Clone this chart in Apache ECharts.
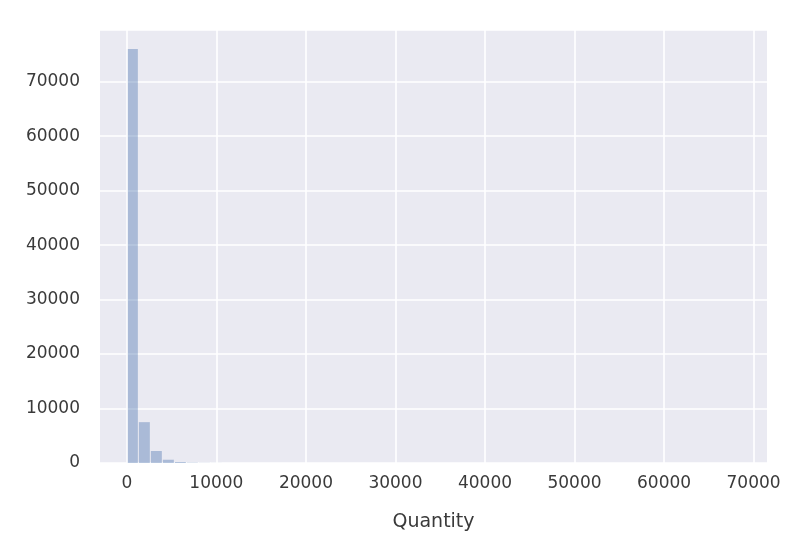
<!DOCTYPE html>
<html><head><meta charset="utf-8">
<script src="https://cdn.jsdelivr.net/npm/echarts@6/dist/echarts.min.js"></script>
<style>html,body{margin:0;background:#fff}#chart{width:803px;height:551px}</style>
</head><body><div id="chart"></div>
<script>
// histogram bins: [start, end, count]
var binStart = [0, 1340, 2680, 4020, 5360, 6700, 8040, 9380];
var binWidth = 1340;
var counts = [76000, 7500, 2200, 600, 180, 60, 25, 10];
var xTicks = [0, 10000, 20000, 30000, 40000, 50000, 60000, 70000];

var data = binStart.map(function(s, i){ return [s, s + binWidth, counts[i]]; });
var txt = {color: '#3a3a3a', fontSize: 17, fontFamily: 'DejaVu Sans'};
function plain(v){ return v % 10000 === 0 ? String(v) : ''; }

var chart = echarts.init(document.getElementById('chart'));
chart.setOption({
  animation: false,
  grid: {left: 100, right: 36, top: 30, bottom: 88, show: true, backgroundColor: '#eaeaf2', borderWidth: 0},
  xAxis: {
    type: 'value', min: -3000, max: 71500, interval: 10000,
    name: 'Quantity', nameLocation: 'middle', nameGap: 50,
    nameTextStyle: {color: '#3a3a3a', fontSize: 19, fontFamily: 'DejaVu Sans'},
    axisLine: {show: false}, axisTick: {show: false},
    axisLabel: Object.assign({margin: 12, customValues: xTicks, formatter: plain}, txt),
    splitLine: {show: false}
  },
  yAxis: {
    type: 'value', min: 0, max: 79500, interval: 10000,
    axisLine: {show: false}, axisTick: {show: false},
    axisLabel: Object.assign({margin: 20, formatter: plain}, txt),
    splitLine: {lineStyle: {color: '#fff', width: 1.6}}
  },
  series: [{
    type: 'line', data: [],
    markLine: {silent: true, symbol: 'none', label: {show: false},
      lineStyle: {color: '#fff', width: 1.6, type: 'solid'},
      data: xTicks.map(function(v){return {xAxis: v};})}
  }, {
    type: 'custom', data: data,
    renderItem: function(params, api){
      var p0 = api.coord([api.value(0), api.value(2)]);
      var p1 = api.coord([api.value(1), 0]);
      return {type: 'rect', shape: {x: p0[0], y: p0[1], width: p1[0] - p0[0] - 1, height: p1[1] - p0[1]},
        style: {fill: 'rgba(76,114,176,0.4)'}};
    },
    encode: {x: [0, 1], y: 2}
  }]
});
</script></body></html>
